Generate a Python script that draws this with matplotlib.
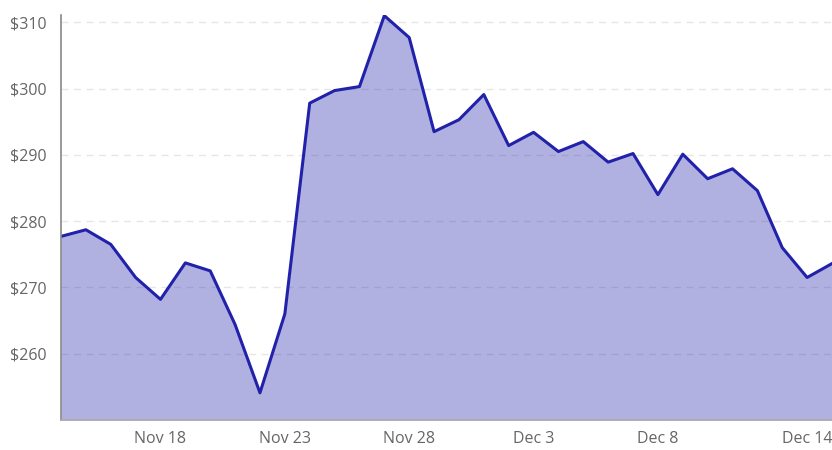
import pandas as pd
import matplotlib
matplotlib.use("Agg")
import matplotlib.pyplot as plt
import matplotlib.dates as mdates
from matplotlib.ticker import FuncFormatter

plt.rcParams['font.family'] = ['Open Sans', 'DejaVu Sans']

# ---------------- DATA ----------------
dates = pd.date_range("2023-11-14", "2023-12-15", freq="D")
prices = [277.7, 278.7, 276.5, 271.5, 268.2, 273.7, 272.5, 264.4, 254.1, 266.0,
          297.8, 299.7, 300.3, 311.0, 307.7, 293.5, 295.3, 299.1, 291.4, 293.4,
          290.5, 292.0, 288.9, 290.2, 284.0, 290.1, 286.4, 287.9, 284.6, 276.0,
          271.5, 273.6]
tick_dates = pd.to_datetime(["2023-11-18", "2023-11-23", "2023-11-28",
                             "2023-12-03", "2023-12-08", "2023-12-14"])
y_ticks = [260, 270, 280, 290, 300, 310]

line_color = "#2121AA"

# ---------------- PLOT ----------------
fig = plt.figure(figsize=(8.32, 4.5), dpi=100)
ax = fig.add_axes([61 / 832, 30 / 450, 771 / 832, 405 / 450])

ax.fill_between(dates, prices, 250, color=line_color, alpha=0.35, linewidth=0, zorder=2)
ax.plot(dates, prices, color=line_color, linewidth=2.2, zorder=3,
        solid_joinstyle="round")

ax.set_xlim(dates[0], dates[-1])
ax.set_ylim(250, 311.1)

ax.set_yticks(y_ticks)
ax.yaxis.set_major_formatter(FuncFormatter(lambda v, p: f"${v:.0f}"))
ax.set_xticks(tick_dates)
ax.xaxis.set_major_formatter(mdates.DateFormatter("%b %-d"))

# grid sits under the translucent fill, so it only shows faintly there
ax.grid(axis="y", color="#e6e6e6", linestyle=(0, (5, 4)), linewidth=1)
ax.set_axisbelow(True)

for s in ["top", "right"]:
    ax.spines[s].set_visible(False)
ax.spines["left"].set_color("#888888")
ax.spines["bottom"].set_color("#aaaaaa")
ax.spines["left"].set_linewidth(1.2)
ax.spines["bottom"].set_linewidth(1.2)
ax.spines["left"].set_zorder(4)
ax.spines["bottom"].set_zorder(4)

ax.tick_params(length=0, labelsize=11.5, labelcolor="#666666")
ax.tick_params(axis="y", pad=10)
ax.tick_params(axis="x", pad=8)

plt.savefig("out.png", dpi=100)
plt.close()
